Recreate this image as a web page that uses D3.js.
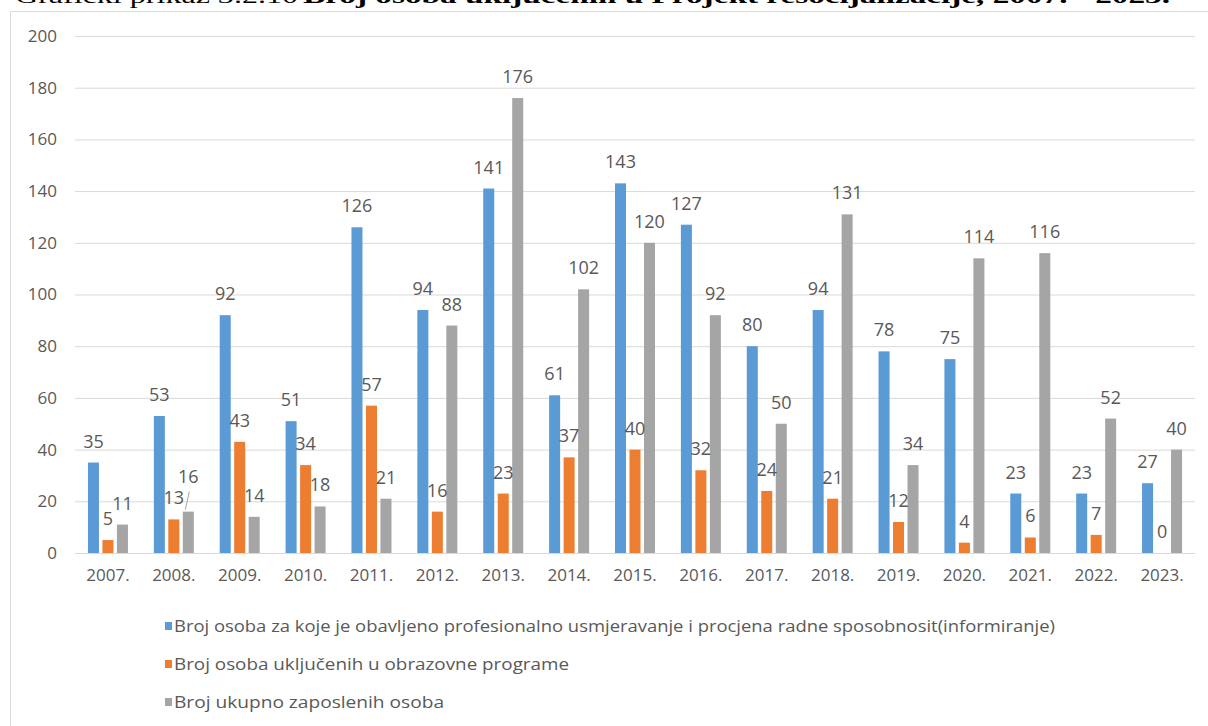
<!DOCTYPE html>
<html>
<head>
<meta charset="utf-8">
<script src="https://cdn.jsdelivr.net/npm/d3@7"></script>
<style>
  body { margin: 0; background: #fff; }
  svg { display: block; }
  text { font-family: "Open Sans", sans-serif; fill: #595959; }
</style>
</head>
<body>
<div id="chart"></div>
<script>
const years = ['2007.', '2008.', '2009.', '2010.', '2011.', '2012.', '2013.', '2014.', '2015.',
  '2016.', '2017.', '2018.', '2019.', '2020.', '2021.', '2022.', '2023.'];
const informirani = [35, 53, 92, 51, 126, 94, 141, 61, 143, 127, 80, 94, 78, 75, 23, 23, 27];
const obrazovanje = [5, 13, 43, 34, 57, 16, 23, 37, 40, 32, 24, 21, 12, 4, 6, 7, 0];
const zaposleni = [11, 16, 14, 18, 21, 88, 176, 102, 120, 92, 50, 131, 34, 114, 116, 52, 40];
const seriesNames = [
  'Broj osoba za koje je obavljeno profesionalno usmjeravanje i procjena radne sposobnosit(informiranje)',
  'Broj osoba uključenih u obrazovne programe',
  'Broj ukupno zaposlenih osoba'
];
const yTicks = [0, 20, 40, 60, 80, 100, 120, 140, 160, 180, 200];

const width = 1208, height = 726;
const margin = {top: 36, right: 13, bottom: 173, left: 75};
const colors = ['#5b9bd5', '#ed7d31', '#a5a5a5'];

const svg = d3.select('#chart').append('svg')
  .attr('width', width)
  .attr('height', height);

// caption, cut off at the top edge like in the source
svg.append('text')
  .attr('x', 15).attr('y', 3)
  .attr('textLength', 283).attr('lengthAdjust', 'spacingAndGlyphs')
  .style('font-family', '"Liberation Serif", serif')
  .style('font-size', '22px').style('fill', '#000')
  .text('Grafički prikaz 3.2.10');
svg.append('text')
  .attr('x', 303).attr('y', 3)
  .attr('textLength', 867).attr('lengthAdjust', 'spacingAndGlyphs')
  .style('font-family', '"Liberation Serif", serif')
  .style('font-size', '22px').style('font-weight', 'bold').style('fill', '#000')
  .text('Broj osoba uključenih u Projekt resocijalizacije, 2007. - 2023.');

// chart frame
svg.append('path')
  .attr('d', `M10.5,${height} V11.5 H${width}`)
  .attr('fill', 'none')
  .attr('stroke', '#d9d9d9');

const g = svg.append('g').attr('transform', `translate(${margin.left},${margin.top})`);
const _width = width - margin.left - margin.right;
const _height = height - margin.top - margin.bottom;

const x0 = d3.scaleBand().domain(years).range([0, _width])
  .paddingInner(0.393).paddingOuter(0.393 / 2);
const x1 = d3.scaleBand().domain([0, 1, 2]).range([0, x0.bandwidth()]).paddingInner(0.24);
const y = d3.scaleLinear().domain([0, 200]).range([_height, 0]);

//grid
g.append('g')
  .call(d3.axisLeft(y).tickValues(yTicks).tickSize(-_width).tickPadding(18))
  .call(a => a.select('.domain').remove())
  .call(a => a.selectAll('line').attr('stroke', '#d9d9d9'))
  .call(a => a.selectAll('text').style('font-size', '17px').style('fill', '#595959'));

const xAxis = g.append('g')
  .attr('transform', `translate(0,${_height})`)
  .call(d3.axisBottom(x0).tickSize(0).tickPadding(16).tickSizeOuter(0));
xAxis.select('.domain').remove();
xAxis.selectAll('text').style('font-size', '17px').style('fill', '#595959');

const allSeries = [informirani, obrazovanje, zaposleni];
// extra lift for labels moved away from their bars (series, year index, px)
const labelLift = [{s: 2, i: 1, lift: 14}];

const groups = g.selectAll('.year')
  .data(years)
  .enter()
  .append('g')
  .attr('class', 'year')
  .attr('transform', d => `translate(${x0(d)},0)`);

groups.selectAll('rect')
  .data((d, i) => allSeries.map((s, k) => ({k, v: s[i]})))
  .enter()
  .append('rect')
  .attr('x', d => x1(d.k))
  .attr('y', d => y(d.v))
  .attr('width', x1.bandwidth())
  .attr('height', d => _height - y(d.v))
  .attr('fill', d => colors[d.k]);

groups.each(function (yr, i) {
  const grp = d3.select(this);
  allSeries.forEach((s, k) => {
    const nudge = labelLift.find(o => o.s === k && o.i === i);
    const lift = nudge ? nudge.lift : 0;
    const cx = x1(k) + x1.bandwidth() / 2;
    const top = y(s[i]);
    grp.append('text')
      .attr('x', cx)
      .attr('y', top - 15 - lift)
      .attr('text-anchor', 'middle')
      .style('font-size', '18px')
      .text(s[i]);
    if (nudge) {
      //leader line
      grp.append('line')
        .attr('x1', cx + 1).attr('y1', top - lift - 6)
        .attr('x2', cx - 3).attr('y2', top - 2)
        .attr('stroke', '#a5a5a5');
    }
  });
});

//legend
const legend = svg.append('g').attr('transform', 'translate(165,626)');
const legendLen = [881, 395, 270];
seriesNames.forEach((name, k) => {
  const row = legend.append('g').attr('transform', `translate(0,${k * 38})`);
  row.append('rect')
    .attr('x', 0).attr('y', -4)
    .attr('width', 7).attr('height', 8)
    .attr('fill', colors[k]);
  row.append('text')
    .attr('x', 9).attr('y', 6)
    .attr('textLength', legendLen[k]).attr('lengthAdjust', 'spacingAndGlyphs')
    .style('font-size', '16px')
    .text(name);
});
</script>
</body>
</html>
